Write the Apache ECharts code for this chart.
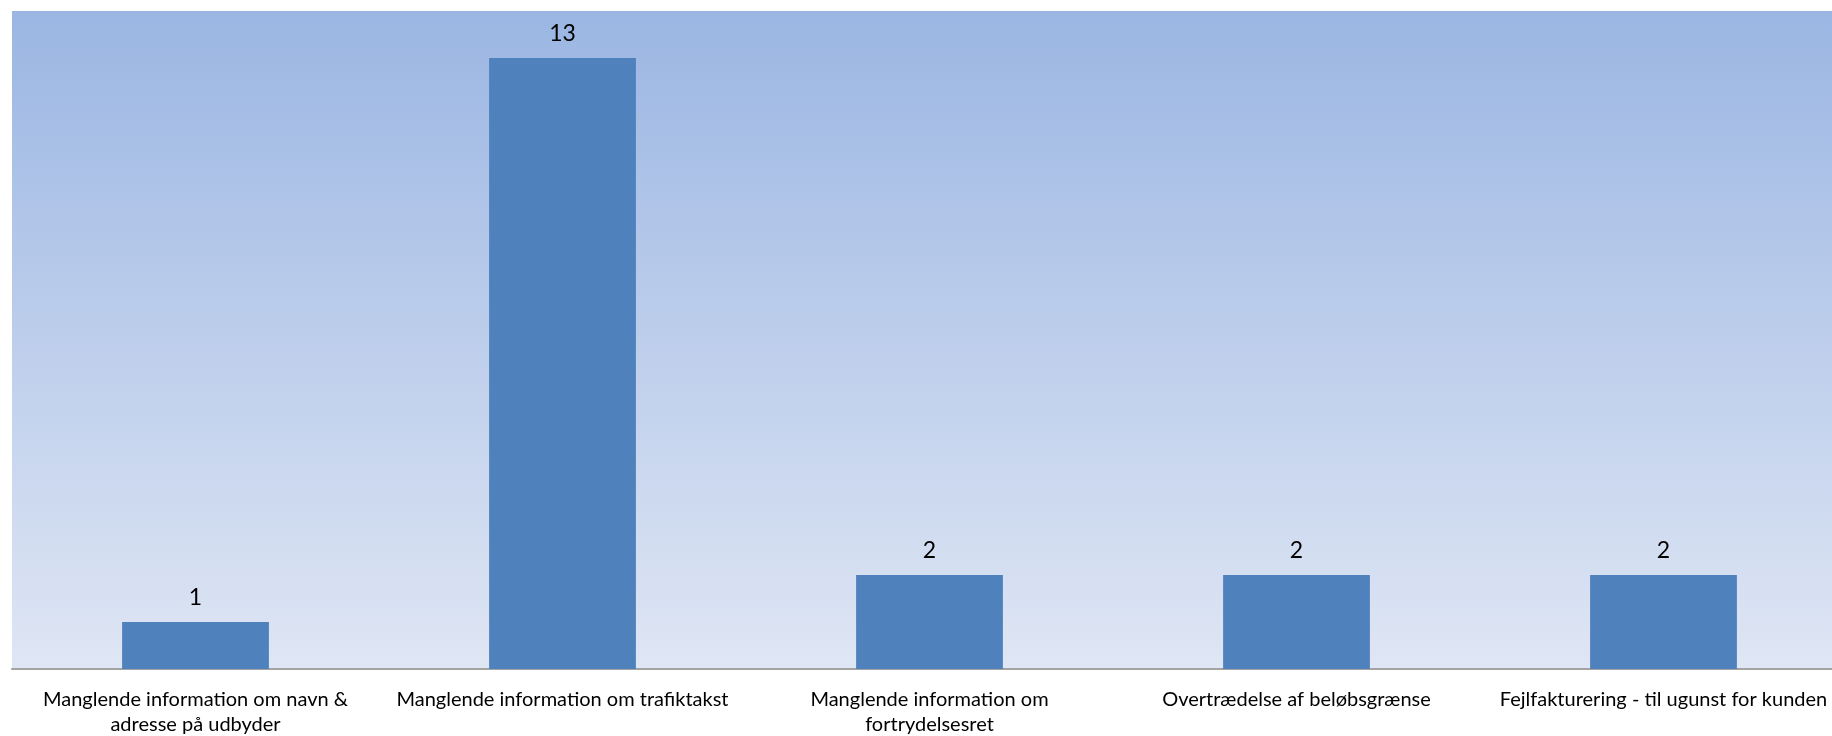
<!DOCTYPE html>
<html>
<head>
<meta charset="utf-8">
<script src="https://cdn.jsdelivr.net/npm/echarts@6/dist/echarts.min.js"></script>
<style>
  html, body { margin: 0; padding: 0; background: #fff; }
  #chart { width: 1832px; height: 736px; }
</style>
</head>
<body>
<div id="chart"></div>
<script>
// kategorier og antal
const categories = [
  'Manglende information om navn &\nadresse på udbyder',
  'Manglende information om trafiktakst',
  'Manglende information om\nfortrydelsesret',
  'Overtrædelse af beløbsgrænse',
  'Fejlfakturering - til ugunst for kunden'
]
const counts = [1, 13, 2, 2, 2]

const chart = echarts.init(document.getElementById('chart'))

chart.setOption({
  animation: false,
  textStyle: { fontFamily: 'Lato, "Open Sans", sans-serif' },
  grid: {
    show: true,
    left: 12, right: -15, top: 11, bottom: 67,
    outerBoundsMode: 'none',
    containLabel: false,
    borderWidth: 0,
    backgroundColor: new echarts.graphic.LinearGradient(0, 0, 0, 1, [
      { offset: 0, color: '#9bb6e3' },
      { offset: 1, color: '#dfe6f4' },
    ]),
  },
  xAxis: {
    type: 'category',
    data: categories,
    axisLine: { lineStyle: { color: '#a3a3a3', width: 2 } },
    axisTick: { show: false },
    axisLabel: {
      color: '#000', fontSize: 20, lineHeight: 25, margin: 18, interval: 0,
    },
  },
  yAxis: {
    type: 'value',
    min: 0, max: 14,
    show: false,
    splitLine: { show: false },
  },
  series: [{
    type: 'bar',
    data: counts,
    barCategoryGap: '60%',
    itemStyle: { color: '#4f81bd' },
    label: {
      show: true, position: 'top', distance: 13,
      color: '#000', fontSize: 23,
    },
  }],
})
</script>
</body>
</html>
